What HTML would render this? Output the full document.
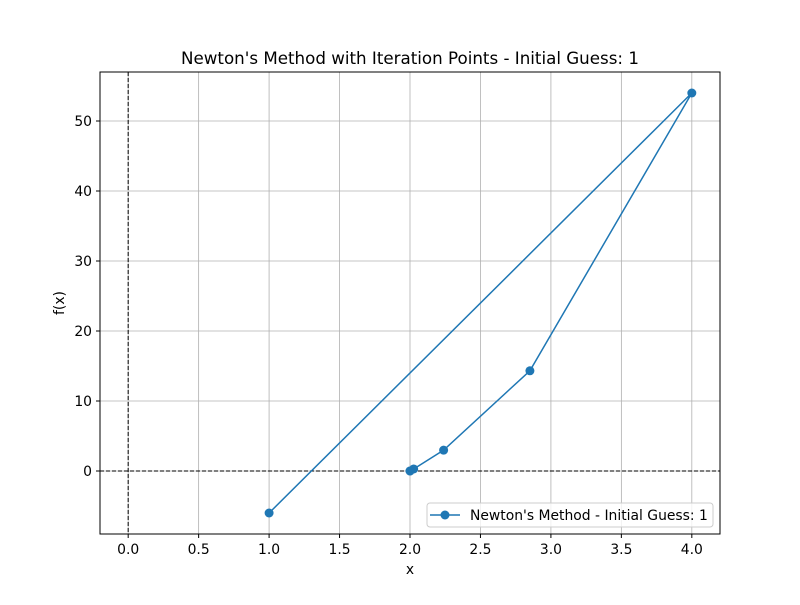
<!DOCTYPE html>
<html><head><meta charset="utf-8"><style>
body{margin:0;background:#fff}
svg text{font-family:"DejaVu Sans","Liberation Sans",sans-serif;fill:#000}
</style></head><body>
<svg id="chart" width="800" height="600" xmlns="http://www.w3.org/2000/svg">
<rect width="800" height="600" fill="#fff"/>
<text x="410" y="64" font-size="16.7" text-anchor="middle">Newton's Method with Iteration Points - Initial Guess: 1</text>
<g id="grid"></g><g id="ref"></g><g id="series"></g>
<rect x="100" y="72" width="620" height="462" fill="none" stroke="#000" stroke-width="1"/>
<g id="ticks"></g>
<text x="410" y="574" font-size="13.9" text-anchor="middle">x</text>
<text x="64" y="303" font-size="13.9" text-anchor="middle" transform="rotate(-90 64 303)">f(x)</text>
<g>
<rect x="427" y="503" width="286" height="24" rx="3" fill="#fff" fill-opacity="0.8" stroke="#ccc"/>
<line x1="430" y1="515" x2="460" y2="515" stroke="#1f77b4" stroke-width="1.5"/>
<circle cx="445" cy="515" r="4.5" fill="#1f77b4"/>
<text x="470" y="520" font-size="13.9">Newton's Method - Initial Guess: 1</text>
</g>
</svg>
<script>
const xs = [1, 4, 2.851, 2.2385, 2.0262, 2.0004, 2.0];
const ys = [-6, 54, 14.32, 2.98, 0.29, 0.004, 0];
const xTicks = [0, 0.5, 1, 1.5, 2, 2.5, 3, 3.5, 4];
const xTickLabels = ["0.0","0.5","1.0","1.5","2.0","2.5","3.0","3.5","4.0"];
const yTicks = [0, 10, 20, 30, 40, 50];
const yTickLabels = ["0","10","20","30","40","50"];
const X = v => 100 + (v + 0.2) / 4.4 * 620;
const Y = v => 534 - (v + 9) / 66 * 462;
const NS = "http://www.w3.org/2000/svg";
function mk(parent, tag, attrs){const e=document.createElementNS(NS,tag);for(const k in attrs)e.setAttribute(k,attrs[k]);document.getElementById(parent).appendChild(e);return e;}
xTicks.forEach((t,i)=>{
  const g=mk('grid','line',{x1:X(t),x2:X(t),y1:72,y2:534,stroke:'#b0b0b0','stroke-width':0.8});
  
  
  mk('ticks','line',{x1:X(t),x2:X(t),y1:534,y2:538,stroke:'#000'});
  const tx=mk('ticks','text',{x:X(t),y:554,'font-size':13.9,'text-anchor':'middle'});
  tx.textContent=xTickLabels[i];
  
  
});
yTicks.forEach((t,i)=>{
  const g=mk('grid','line',{x1:100,x2:720,y1:Y(t),y2:Y(t),stroke:'#b0b0b0','stroke-width':0.8});
  
  
  mk('ticks','line',{x1:96,x2:100,y1:Y(t),y2:Y(t),stroke:'#000'});
  const tx=mk('ticks','text',{x:92,y:Y(t)+5,'font-size':13.9,'text-anchor':'end'});
  tx.textContent=yTickLabels[i];
  
  
});
const h=mk('ref','line',{x1:100,x2:720,y1:Y(0),y2:Y(0),stroke:'#000','stroke-width':1,'stroke-dasharray':'4,2'});


const v=mk('ref','line',{x1:X(0),x2:X(0),y1:72,y2:534,stroke:'#000','stroke-width':1,'stroke-dasharray':'4,2'});


const pl=mk('series','polyline',{points:xs.map((x,i)=>X(x)+','+Y(ys[i])).join(' '),fill:'none',stroke:'#1f77b4','stroke-width':1.5});


xs.forEach((x,i)=>{
  const c=mk('series','circle',{cx:X(x),cy:Y(ys[i]),r:4.5,fill:'#1f77b4'});
  
  
});
</script>
</body></html>
